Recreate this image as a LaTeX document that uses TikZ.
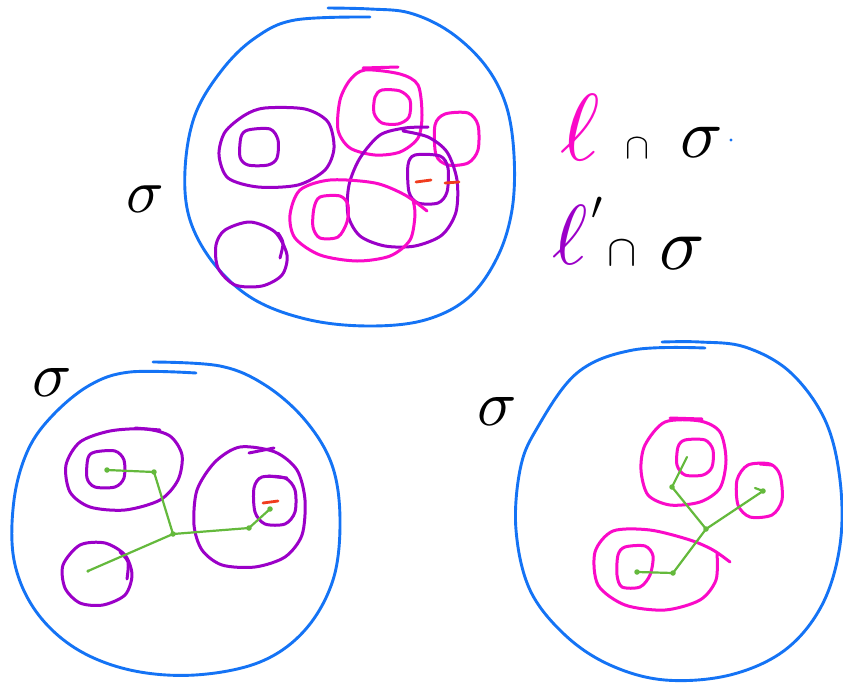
\documentclass[tikz,border=0pt]{standalone}
\usepackage{graphicx}
\begin{document}
\begin{tikzpicture}[x=1pt,y=-1pt,
  line cap=round, line join=round,
  bluec/.style={draw=skyb, line width=2.9pt},
  purp/.style={draw=purpc, line width=3pt},
  pinkc/.style={draw=pinkcol, line width=3pt},
  grn/.style={draw=grnc, line width=2.2pt},
  redd/.style={draw=redc, line width=2.8pt},
  dotg/.style={fill=grnc, circle, inner sep=0pt, minimum size=5.5pt},
  lab/.style={inner sep=0pt, text=black}]
\definecolor{skyb}{RGB}{20,115,245}
\definecolor{purpc}{RGB}{155,0,200}
\definecolor{pinkcol}{RGB}{250,10,200}
\definecolor{grnc}{RGB}{100,185,60}
\definecolor{redc}{RGB}{240,60,30}
\useasboundingbox (0,0) rectangle (843,683);
\fill[white] (0,0) rectangle (843,683);

% ===== top circle =====
\draw[bluec] plot[smooth, tension=0.6] coordinates {(328,8) (370,9) (410,13) (450,32) (485,65) (506,105) (514,155) (512,210) (497,258) (468,298) (425,320) (370,326) (310,320) (255,300) (215,265) (190,220) (185,170) (195,115) (222,70) (255,38) (295,20) (370,17)};
\node[lab] (s1) at (145,199) {\scalebox{6.2}{$\sigma$}};

\draw[purp] plot[smooth cycle] coordinates {(265,108) (305,109) (328,122) (334,148) (325,170) (298,185) (258,187) (228,178) (219,155) (225,132) (245,115)};
\draw[purp] plot[smooth cycle] coordinates {(248,130) (270,129) (278,140) (277,158) (268,165) (248,165) (240,157) (241,137)};
\draw[pinkc] plot[smooth cycle] coordinates {(365,70) (400,74) (418,85) (422,115) (418,138) (400,152) (375,155) (350,148) (338,130) (340,100) (350,80)};
\draw[pinkc] (363,68) -- (398,67);
\draw[pinkc] plot[smooth cycle] coordinates {(382,90) (400,91) (410,100) (409,117) (398,124) (382,123) (374,113) (375,97)};
\draw[pinkc] plot[smooth cycle] coordinates {(445,114) (468,113) (478,125) (478,150) (468,163) (448,165) (436,155) (435,125)};
\draw[purp] plot[smooth] coordinates {(403,131) (428,137) (447,152) (457,180) (456,212) (442,235) (415,246) (385,246) (360,236) (348,215) (349,185) (360,158) (380,135) (405,128) (428,127)};
\draw[purp] plot[smooth cycle] coordinates {(415,155) (440,156) (448,168) (447,192) (438,203) (418,203) (409,192) (408,165)};
\draw[redd] (416,182) -- (431,180);
\draw[redd] (445,183) -- (459,182);
\draw[pinkc] plot[smooth] coordinates {(427,211) (405,195) (375,183) (330,180) (300,190) (290,215) (295,238) (320,255) (357,261) (390,256) (410,240) (415,215) (413,200)};
\draw[pinkc] plot[smooth cycle] coordinates {(320,197) (340,196) (348,205) (347,222) (338,237) (320,238) (313,227) (314,208)};
\draw[purp] plot[smooth cycle] coordinates {(225,230) (250,222) (275,232) (287,255) (282,275) (262,286) (235,285) (218,268) (216,245)};
\draw[purp] plot[smooth] coordinates {(278,233) (283,243) (280,258)};

% ===== legend =====
\node[lab, text=pinkcol] (l1) at (580,128) {\scalebox{9.5}{$\ell$}};
\node[lab] (c1) at (637,148) {\scalebox{3.6}{$\cap$}};
\node[lab] (s4) at (702,142) {\scalebox{7}{$\sigma$}};
\fill[skyb] (731,140) circle (1.6pt);
\node[lab, text=purpc] (l2) at (570,235) {\scalebox{8.5}{$\ell$}};
\node[lab] (p2) at (597,208) {\scalebox{4}{$\prime$}};
\node[lab] (c2) at (622,253) {\scalebox{4.4}{$\cap$}};
\node[lab] (s5) at (682,253) {\scalebox{7.5}{$\sigma$}};

% ===== bottom-left circle =====
\draw[bluec] plot[smooth, tension=0.6] coordinates {(153,362) (220,366) (265,385) (305,420) (332,465) (340,520) (333,580) (305,630) (260,662) (195,675) (130,670) (75,648) (35,610) (14,560) (14,500) (28,450) (53,415) (90,385) (130,372) (196,373)};
\node[lab] (s2) at (52,382) {\scalebox{6.5}{$\sigma$}};

\draw[purp] plot[smooth cycle] coordinates {(110,431) (145,429) (170,436) (182,455) (178,480) (160,500) (125,510) (90,507) (70,492) (66,465) (80,442)};
\draw[purp] (135,428) -- (160,430);
\draw[purp] plot[smooth cycle] coordinates {(95,452) (115,451) (124,460) (124,478) (115,487) (95,487) (87,478) (88,458)};
\draw[purp] plot[smooth cycle] coordinates {(240,447) (275,452) (297,470) (305,500) (302,535) (285,557) (255,567) (222,565) (202,550) (194,525) (197,490) (215,462)};
\draw[purp] (249,453) -- (274,448);
\draw[purp] plot[smooth cycle] coordinates {(262,477) (285,478) (295,490) (295,512) (285,524) (265,524) (255,512) (254,488)};
\draw[purp] (268,476) -- (287,478);
\draw[redd] (263,503) -- (278,501);
\draw[purp] plot[smooth cycle] coordinates {(80,545) (105,543) (125,555) (132,575) (125,595) (103,605) (80,603) (65,588) (63,565)};
\draw[purp] plot[smooth] coordinates {(120,552) (128,562) (127,579)};

\coordinate (a1) at (107,470);
\coordinate (a2) at (154,472);
\coordinate (a3) at (173,534);
\coordinate (a4) at (249,528);
\coordinate (a5) at (270,509);
\coordinate (a6) at (88,571);
\draw[grn] (a1) -- (a2) -- (a3) -- (a4) -- (a5);
\draw[grn] (a3) -- (a6);
\foreach \p in {a1,a2,a3,a4,a5} \node[dotg] at (\p) {};
\node[dotg, minimum size=3.5pt] at (a6) {};

% ===== bottom-right circle =====
\draw[bluec] plot[smooth, tension=0.6] coordinates {(662,342) (700,342) (745,347) (790,372) (825,420) (840,480) (840,545) (822,605) (785,650) (730,675) (665,680) (610,665) (565,635) (530,590) (516,530) (520,470) (536,430) (577,373) (633,350) (705,348)};
\node[lab] (s3) at (497,411) {\scalebox{6.5}{$\sigma$}};

\draw[pinkc] plot[smooth cycle] coordinates {(665,422) (700,421) (720,432) (726,460) (720,488) (700,502) (670,505) (648,495) (641,470) (645,445)};
\draw[pinkc] (670,418) -- (702,419);
\draw[pinkc] plot[smooth cycle] coordinates {(685,440) (705,440) (713,450) (712,467) (703,475) (685,475) (677,465) (678,447)};
\draw[pinkc] plot[smooth cycle] coordinates {(748,465) (770,464) (780,475) (782,500) (772,515) (750,517) (738,505) (737,480)};
\draw[pinkc] (760,464) -- (772,465);
\draw[pinkc] plot[smooth] coordinates {(730,562) (713,550) (690,540) (650,530) (613,531) (595,552) (598,585) (625,605) (665,610) (700,600) (716,580) (717,553)};
\draw[pinkc] plot[smooth cycle] coordinates {(625,547) (645,546) (653,556) (650,575) (640,587) (622,587) (617,575) (618,555)};

\coordinate (b1) at (687,457);
\coordinate (b2) at (672,487);
\coordinate (b3) at (706,529);
\coordinate (b4) at (763,491);
\coordinate (b5) at (673,573);
\coordinate (b6) at (637,572);
\draw[grn] (b1) -- (b2) -- (b3) -- (b4);
\draw[grn] (b3) -- (b5) -- (b6);
\draw[grn] (b4) -- (755,488);
\foreach \p in {b2,b3,b4,b5,b6} \node[dotg] at (\p) {};
\end{tikzpicture}
\end{document}
